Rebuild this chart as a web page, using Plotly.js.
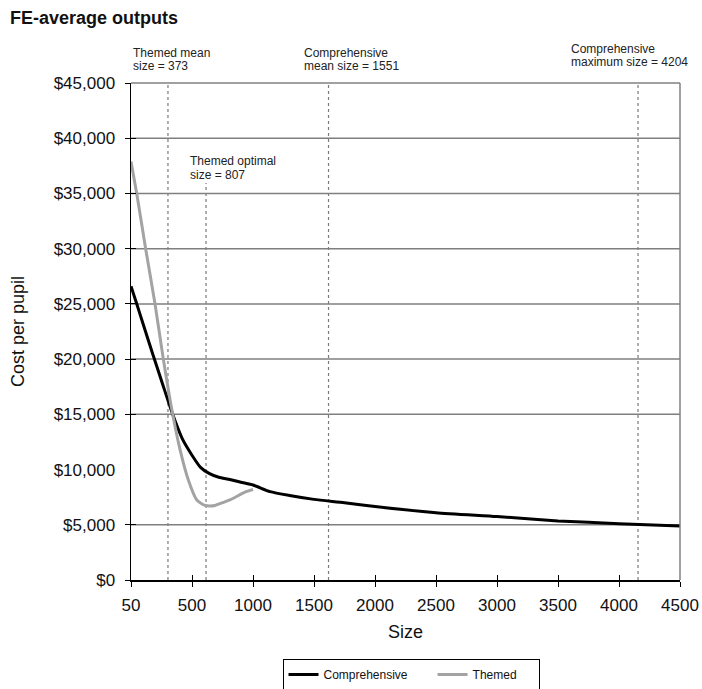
<!DOCTYPE html>
<html>
<head>
<meta charset="utf-8">
<script src="https://cdn.plot.ly/plotly-3.0.1.min.js"></script>
<style>html,body{margin:0;padding:0;background:#fff;overflow:hidden;}#chart{width:702px;height:689px;}</style>
</head>
<body>
<div id="chart"></div>
<script>
// ---- data (x = position on the evenly spaced size axis) ----
const xTickLabels = ['50','500','1000','1500','2000','2500','3000','3500','4000','4500'];
const compSize = [0, 50, 100, 180, 260, 340, 420, 500, 570, 640, 720, 810, 900, 1000, 1140, 1300, 1500, 1750, 2000, 2500, 3000, 3500, 4000, 4500];
const compCost = [26600, 24900, 23150, 20400, 17700, 15050, 12800, 11300, 10200, 9650, 9300, 9100, 8850, 8600, 8000, 7650, 7300, 7000, 6650, 6100, 5750, 5350, 5100, 4880];
const themSize = [0, 47, 120, 197, 265, 342, 402, 470, 539, 607, 650, 689, 750, 811, 934, 1000];
const themCost = [37900, 35000, 30000, 25000, 20000, 15000, 11800, 9050, 7250, 6750, 6700, 6750, 7000, 7250, 7950, 8200];
const yTickValues = [0, 5000, 10000, 15000, 20000, 25000, 30000, 35000, 40000, 45000];
const yTickMarkValues = [0, 5000, 15000, 20000, 25000, 30000, 35000, 40000, 45000];
const gridValues = [5000, 15000, 20000, 25000, 30000, 35000, 40000];
const refLineSize = [303, 615, 1619, 4156];
const refLineLabels = [['Themed mean', 'size = 373'], ['Themed optimal', 'size = 807'], ['Comprehensive', 'mean size = 1551'], ['Comprehensive', 'maximum size = 4204']];
const seriesNames = ['Comprehensive', 'Themed'];

// ---- layout helpers ----
const L = 131, R = 680, T = 83, B = 580;
const px2paperX = p => (p - L) / (R - L);
const px2paperY = p => (B - p) / (B - T);
const xTickVals = xTickLabels.map((_, i) => i * 500);
const yTickText = yTickValues.map(v => '$' + v.toLocaleString('en-US'));
const pad = n => '\u00a0'.repeat(n);

const labelPos = [
  {x: 132, y: [53, 66], top: 83},
  {x: 189, y: [161, 175], top: 183},
  {x: 303, y: [53, 66], top: 83},
  {x: 570, y: [49, 62], top: 83}
];

const mainFont = '"Liberation Sans", Arial, Helvetica, sans-serif';

const shapes = [];
const annotations = [];
refLineSize.forEach((s, i) => {
  shapes.push({type: 'line', xref: 'x', yref: 'paper', x0: s, x1: s, y0: 0, y1: px2paperY(labelPos[i].top),
    line: {color: '#7a7a7a', width: 1.2, dash: 'dot'}, layer: 'below'});
  refLineLabels[i].forEach((txt, j) => {
    annotations.push({xref: 'paper', yref: 'paper', x: px2paperX(labelPos[i].x), y: px2paperY(labelPos[i].y[j]),
      xanchor: 'left', yanchor: 'middle', showarrow: false, text: txt, borderpad: 0,
      font: {family: mainFont, size: 12, color: '#222'}});
  });
});
// top and right frame
shapes.push({type: 'line', xref: 'paper', yref: 'paper', x0: 0, x1: 1, y0: 1, y1: 1, line: {color: '#808080', width: 1.5}, layer: 'above'});
shapes.push({type: 'line', xref: 'paper', yref: 'paper', x0: 1, x1: 1, y0: 0, y1: 1, line: {color: '#808080', width: 1.5}, layer: 'above'});

const traces = [
  {x: compSize, y: compCost, type: 'scatter', mode: 'lines', name: seriesNames[0] + pad(6),
   line: {color: '#000000', width: 3, shape: 'spline', smoothing: 0.6}, hoverinfo: 'skip'},
  {x: themSize, y: themCost, type: 'scatter', mode: 'lines', name: seriesNames[1] + pad(5),
   line: {color: '#a3a3a3', width: 3, shape: 'spline', smoothing: 0.6}, hoverinfo: 'skip'},
  {x: [], y: [], xaxis: 'x2', yaxis: 'y2', type: 'scatter', mode: 'lines', showlegend: false, hoverinfo: 'skip'},
  {x: [], y: [], xaxis: 'x', yaxis: 'y3', type: 'scatter', mode: 'lines', showlegend: false, hoverinfo: 'skip'}
];

const layout = {
  width: 702, height: 689,
  margin: {l: L, r: 702 - R, t: T, b: 689 - B, autoexpand: false},
  paper_bgcolor: '#ffffff', plot_bgcolor: '#ffffff',
  font: {family: mainFont, color: '#111'},
  title: {text: '<b>FE-average outputs</b>', xref: 'container', yref: 'container', x: 10 / 702, xanchor: 'left',
          y: 1 - 18 / 689, yanchor: 'middle', font: {family: mainFont, size: 18, color: '#111'}},
  xaxis: {range: [0, 4500], tickvals: xTickVals, ticktext: xTickLabels, showgrid: false, zeroline: false,
          showline: true, linecolor: '#000', linewidth: 1.5, ticks: 'outside', ticklen: 5, tickcolor: '#000', tickwidth: 1,
          tickfont: {family: mainFont, size: 17, color: '#111'}, ticklabelstandoff: 4, automargin: false,
          title: {text: 'Size', font: {family: mainFont, size: 18, color: '#111'}, standoff: 11}},
  yaxis: {range: [0, 45000], tickvals: yTickValues, ticktext: yTickText, showgrid: false, zeroline: false,
          showline: true, linecolor: '#000', linewidth: 1.5, ticks: '', 
          tickfont: {family: mainFont, size: 17, color: '#111'}, ticklabelstandoff: 11, automargin: false,
          title: {text: 'Cost per pupil', font: {family: mainFont, size: 18, color: '#111'}, standoff: 24}},
  xaxis2: {overlaying: 'x', anchor: 'y2', side: 'bottom', range: [0, 4500], tickvals: xTickVals, showticklabels: false,
           ticks: 'inside', ticklen: 5, tickcolor: '#000', showgrid: false, zeroline: false, showline: false},
  yaxis2: {overlaying: 'y', anchor: 'x2', side: 'left', range: [0, 45000], tickvals: yTickMarkValues, showticklabels: false,
           ticks: 'inside', ticklen: 5, tickcolor: '#000', showgrid: false, zeroline: false, showline: false},
  yaxis3: {overlaying: 'y', anchor: 'x', side: 'left', range: [0, 45000], tickvals: yTickMarkValues, showticklabels: false,
           ticks: 'outside', ticklen: 5, tickcolor: '#000', showgrid: false, zeroline: false, showline: false},
  showlegend: true,
  legend: {orientation: 'h', x: px2paperX(411), xanchor: 'center', y: px2paperY(659), yanchor: 'top',
           bordercolor: '#000', borderwidth: 1, bgcolor: '#fff', font: {family: mainFont, size: 12, color: '#111'}},
  shapes: shapes.concat(gridValues.map(v => ({type: 'line', xref: 'paper', yref: 'y', x0: 0, x1: 1, y0: v, y1: v,
           line: {color: '#7f7f7f', width: 1.5}, layer: 'below'}))),
  annotations: annotations
};

Plotly.newPlot('chart', traces, layout, {displayModeBar: false, staticPlot: true});
</script>
</body>
</html>
